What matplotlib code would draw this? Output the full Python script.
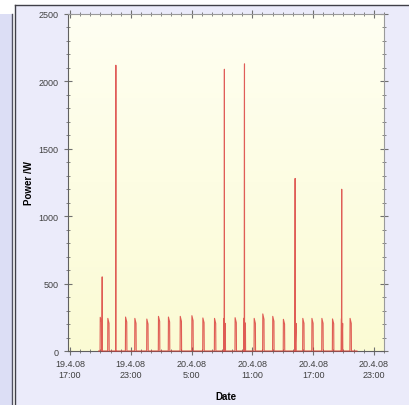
import matplotlib
matplotlib.use("Agg")
import matplotlib.pyplot as plt
import matplotlib.dates as mdates
from matplotlib.patches import Rectangle
from matplotlib.lines import Line2D
import numpy as np
import pandas as pd

# DATA
# fridge cycles: switch on / switch off / power (W)
cycle_on = ["2008-04-19 19:58", "2008-04-19 20:43", "2008-04-19 22:28", "2008-04-19 23:23",
            "2008-04-20 00:34", "2008-04-20 01:43", "2008-04-20 02:42", "2008-04-20 03:52",
            "2008-04-20 05:01", "2008-04-20 06:06", "2008-04-20 07:15", "2008-04-20 08:12",
            "2008-04-20 09:17", "2008-04-20 10:11", "2008-04-20 11:10", "2008-04-20 12:01",
            "2008-04-20 13:00", "2008-04-20 14:03", "2008-04-20 15:11", "2008-04-20 15:58",
            "2008-04-20 16:52", "2008-04-20 17:51", "2008-04-20 18:54", "2008-04-20 19:47",
            "2008-04-20 20:38"]
cycle_off = ["2008-04-19 20:07", "2008-04-19 20:52", "2008-04-19 22:37", "2008-04-19 23:32",
             "2008-04-20 00:43", "2008-04-20 01:52", "2008-04-20 02:51", "2008-04-20 04:01",
             "2008-04-20 05:10", "2008-04-20 06:15", "2008-04-20 07:24", "2008-04-20 08:21",
             "2008-04-20 09:26", "2008-04-20 10:20", "2008-04-20 11:19", "2008-04-20 12:10",
             "2008-04-20 13:09", "2008-04-20 14:12", "2008-04-20 15:20", "2008-04-20 16:07",
             "2008-04-20 17:01", "2008-04-20 18:00", "2008-04-20 19:03", "2008-04-20 19:56",
             "2008-04-20 20:47"]
cycle_power = [250, 242, 252, 242, 237, 257, 252, 257, 262, 245, 242, 242,
               247, 245, 242, 275, 257, 235, 240, 242, 242, 242, 238, 240, 242]
cycle_end_power = [215, 205, 215, 205, 200, 220, 215, 220, 225, 210, 205, 205,
                   210, 208, 205, 235, 220, 200, 205, 205, 205, 205, 202, 205, 205]

# short high load spikes: time, intermediate sample, peak (W)
spike_time = ["2008-04-19 20:10", "2008-04-19 21:31", "2008-04-20 08:14",
              "2008-04-20 10:13", "2008-04-20 15:13", "2008-04-20 19:49"]
spike_mid = [330, 1260, 580, 1740, 740, 880]
spike_peak = [550, 2120, 2090, 2130, 1280, 1200]

data_start = "2008-04-19 19:50"
data_end = "2008-04-20 21:20"

x_ticks = ["2008-04-19 17:00", "2008-04-19 23:00", "2008-04-20 05:00",
           "2008-04-20 11:00", "2008-04-20 17:00", "2008-04-20 23:00"]
y_ticks = [0, 500, 1000, 1500, 2000, 2500]

# build the sampled series
events = [(pd.Timestamp(data_start), 0)]
for on, off, p, pe in zip(cycle_on, cycle_off, cycle_power, cycle_end_power):
    on, off = pd.Timestamp(on), pd.Timestamp(off)
    events += [(on, 0), (on + pd.Timedelta(minutes=1), p), (off - pd.Timedelta(minutes=1), pe), (off, 0)]
for t, m, p in zip(spike_time, spike_mid, spike_peak):
    t = pd.Timestamp(t)
    events += [(t - pd.Timedelta(minutes=1), 0), (t, m), (t + pd.Timedelta(seconds=30), p),
               (t + pd.Timedelta(minutes=1), 0)]
events.append((pd.Timestamp(data_end), 0))
series = pd.DataFrame(events, columns=["date", "power"]).sort_values("date", kind="stable")

# FIGURE
W, H = 409, 406
fig = plt.figure(figsize=(W / 100, H / 100), dpi=100, facecolor="white")
plt.rcParams["font.family"] = ["Liberation Sans", "DejaVu Sans"]

def px(x0, y0, x1, y1):
    return (x0 / W, 1 - y1 / H, (x1 - x0) / W, (y1 - y0) / H)

# side strip and panel
r = px(0, 15, 11.5, H)
fig.add_artist(Rectangle(r[:2], r[2], r[3], transform=fig.transFigure, fc="#dcdef5", ec="none", zorder=-3))
fig.add_artist(Line2D([11.5 / W] * 2, [0, 1 - 15 / H], transform=fig.transFigure, color="#505060", lw=1, zorder=-2))
r = px(15, 6, W, H)
fig.add_artist(Rectangle(r[:2], r[2], r[3], transform=fig.transFigure, fc="#ebebfa", ec="none", zorder=-3))
fig.add_artist(Line2D([15 / W] * 2, [0, 1 - 6 / H], transform=fig.transFigure, color="#404048", lw=1, zorder=-2))
fig.add_artist(Line2D([15 / W, 1], [1 - 6 / H] * 2, transform=fig.transFigure, color="#404048", lw=1, zorder=-2))

pos = list(px(68, 15, 384, 352))

# gradient plot background
bg = fig.add_axes(pos, zorder=0)
grad = np.linspace(0, 1, 256)[:, None]
cmap = matplotlib.colors.LinearSegmentedColormap.from_list("bg", ["#fffff2", "#fbfbd4"])
bg.imshow(grad, aspect="auto", cmap=cmap, extent=(0, 1, 0, 1))
bg.axis("off")

ax = fig.add_axes(pos, zorder=1)
ax.patch.set_alpha(0)
ax.plot(series["date"], series["power"], color="#d83030", lw=0.8, alpha=0.78,
        clip_on=False, zorder=3)

ax.set_xlim(pd.Timestamp("2008-04-19 16:48"), pd.Timestamp("2008-04-21 00:00"))
ax.set_ylim(0, 2500)
ax.set_xticks(pd.to_datetime(x_ticks))
ax.xaxis.set_minor_locator(mdates.HourLocator())
ax.xaxis.set_major_formatter(plt.FuncFormatter(
    lambda v, _: (lambda d: f"{d.day}.{d.month}.{d:%y}\n{d.hour}:{d:%M}")(mdates.num2date(v))))
ax.set_yticks(y_ticks)
ax.yaxis.set_minor_locator(matplotlib.ticker.MultipleLocator(100))

ax.tick_params(which="both", top=True, right=True, direction="inout", colors="#707070",
               labelcolor="#404040", labelsize=6.5)
ax.tick_params(which="major", length=6, width=0.8, pad=3)
ax.tick_params(which="minor", length=3, width=0.6)
ax.tick_params(axis="y", which="major", pad=4)
for lbl in ax.get_xticklabels():
    lbl.set_linespacing(1.3)

for s in ["left", "bottom"]:
    ax.spines[s].set_color("#606060")
for s in ["top", "right"]:
    ax.spines[s].set_color("#9a9a9a")

ax.set_xlabel("Date", fontsize=7, fontweight="bold", labelpad=8)
ax.set_ylabel("Power /W", fontsize=7, fontweight="bold", labelpad=3)

fig.savefig("out.png", dpi=100, facecolor=fig.get_facecolor())
